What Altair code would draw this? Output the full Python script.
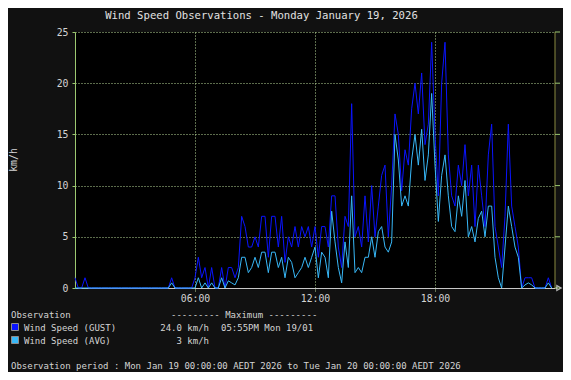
import altair as alt
import pandas as pd

# ---------------- data (10-minute slots, 00:00 .. 23:50) ----------------
slot_minutes = 10
gust = [1, 0, 0, 1, 0, 0, 0, 0, 0, 0, 0, 0, 0, 0, 0, 0, 0, 0, 0, 0,
        0, 0, 0, 0, 0, 0, 0, 0, 0, 1, 0, 0, 0, 0, 0, 0, 1, 3, 1, 2,
        0, 2, 0, 0, 2, 0, 2, 2, 1, 2, 7, 6, 4, 4, 5, 4, 7, 7, 3, 7,
        7, 4, 7, 2.5, 5, 4, 6, 4, 6, 5, 6, 4, 6, 3, 6, 6, 4, 9, 9, 4,
        2, 7, 6, 18, 5, 6, 4, 9, 4.5, 10, 5, 8, 11, 12, 5, 10, 17, 15, 9.5, 13.5,
        12, 17.5, 20, 17, 21, 14, 16, 24, 15, 9, 20, 24, 13, 9, 8, 12, 10, 14, 9, 12,
        6, 12, 9, 6, 13, 16, 6, 4, 2, 7, 16, 8, 6, 4, 0, 1, 1, 1, 0, 0,
        0, 0, 1, 0]
avg = [0, 0, 0, 0, 0, 0, 0, 0, 0, 0, 0, 0, 0, 0, 0, 0, 0, 0, 0, 0,
       0, 0, 0, 0, 0, 0, 0, 0, 0, 0.5, 0, 0, 0, 0, 0, 0, 0, 1, 0, 0.5,
       0, 0.5, 0, 0, 1, 0, 0.7, 0.5, 0.3, 1, 3, 3, 1.5, 2, 3, 2, 3.5, 3.5, 1.5, 3.5,
       3.5, 2, 3, 1, 3, 2.5, 1, 1.5, 2, 3, 2, 3, 4, 1, 3.5, 3, 1, 7.5, 4.5, 2,
       0.5, 4.5, 2, 9, 1.5, 2, 1.5, 3, 3, 5, 3, 5.5, 6, 4, 3.5, 4.5, 15, 12.5, 8, 9,
       8, 12.5, 15, 12, 15.5, 10.5, 13, 19, 12, 6.5, 11, 13, 9, 6, 5.5, 9, 7, 10.5, 5, 6,
       4.5, 6.8, 7.5, 5, 8, 8, 3, 1, 0, 4, 8, 6, 4, 3, 0, 0.3, 0.5, 0.3, 0, 0,
       0, 0, 0.5, 0]

x_ticks = [6, 12, 18]
x_tick_labels = ["06:00", "12:00", "18:00"]
y_ticks = [0, 5, 10, 15, 20, 25]

title_text = "Wind Speed Observations - Monday January 19, 2026"
y_title = "km/h"
legend_header = "Observation"
legend_max_header = "--------- Maximum ---------"
series_names = ["Wind Speed (GUST)", "Wind Speed (AVG)"]
series_max = ["24.0 km/h", "3 km/h"]
series_max_time = ["05:55PM Mon 19/01", ""]
period_text = "Observation period : Mon Jan 19 00:00:00 AEDT 2026 to Tue Jan 20 00:00:00 AEDT 2026"

GUST_COLOR = "#0a14ff"
AVG_COLOR = "#38b8f8"
TEXT_COLOR = "#d4d4d4"
GRID_COLOR = "#b8d898"
AXIS_COLOR = "#9cc870"
FONT = "DejaVu Sans Mono"

hours = [i * slot_minutes / 60 for i in range(len(gust))]
gust_df = pd.DataFrame({"h": hours, "v": gust})
avg_df = pd.DataFrame({"h": hours, "v": avg})
tick_df = pd.DataFrame({"v": y_ticks})

label_lookup = "{" + ",".join(f"'{t}':'{l}'" for t, l in zip(x_ticks, x_tick_labels)) + "}"

x_enc = alt.X(
    "h:Q",
    scale=alt.Scale(domain=[0, 24], nice=False, zero=False),
    axis=alt.Axis(
        values=x_ticks, labelExpr=f"{label_lookup}[datum.value]", title=None,
        grid=True, gridDash=[1, 2], gridColor=GRID_COLOR, gridWidth=1,
        domainColor="#c8c8c8", tickColor=GRID_COLOR, tickSize=3, tickDash=[1, 1],
        labelColor=TEXT_COLOR, labelFont=FONT, labelFontSize=9.8, labelPadding=2,
        labelBaseline="top",
    ),
)
y_enc = alt.Y(
    "v:Q",
    scale=alt.Scale(domain=[0, 25], nice=False),
    axis=alt.Axis(
        values=y_ticks, title=None,
        grid=True, gridDash=[1, 2], gridColor=GRID_COLOR, gridWidth=1,
        domainColor=AXIS_COLOR, tickColor=AXIS_COLOR, tickSize=3,
        labelColor=TEXT_COLOR, labelFont=FONT, labelFontSize=9.8, labelPadding=4,
    ),
)

gust_line = alt.Chart(gust_df).mark_line(
    color=GUST_COLOR, strokeWidth=1, interpolate="linear"
).encode(x=x_enc, y=y_enc)
avg_line = alt.Chart(avg_df).mark_line(
    color=AVG_COLOR, strokeWidth=1, interpolate="linear"
).encode(x=x_enc, y=y_enc)

# right border and right-side ticks
right_border = alt.Chart(alt.Data(values=[{}])).mark_rule(
    color="#8a8a40", strokeWidth=1
).encode(x=alt.value(480), y=alt.value(0), y2=alt.value(256))
right_ticks = alt.Chart(tick_df).mark_rule(
    color=AXIS_COLOR, strokeWidth=1
).encode(x=alt.value(480), x2=alt.value(485), y=y_enc)
arrow = alt.Chart(alt.Data(values=[{}])).mark_point(
    shape="triangle-right", size=25, color="white", filled=False, strokeWidth=1.2
).encode(x=alt.value(484), y=alt.value(256))


def label(text, x, y, size=9, align="left", color=TEXT_COLOR, angle=0):
    return alt.Chart(alt.Data(values=[{}])).mark_text(
        font=FONT, fontSize=size, align=align, baseline="alphabetic",
        color=color, angle=angle,
    ).encode(x=alt.value(x), y=alt.value(y), text=alt.value(text))


def swatch(color, y):
    return alt.Chart(alt.Data(values=[{}])).mark_rect(
        color=color, stroke="#8c8c8c", strokeWidth=1
    ).encode(x=alt.value(-63.5), x2=alt.value(-56.5), y=alt.value(y), y2=alt.value(y + 7))


texts = [
    label(title_text, 186.5, -13, size=10.6, align="center", color="#e2e2e2"),
    label(y_title, -58, 128, size=9.8, align="center", angle=270),
    label(legend_header, -64, 286),
    label(legend_max_header, 96, 286),
    swatch(GUST_COLOR, 291.5),
    label(series_names[0], -51, 299),
    label(series_max[0], 134, 299, align="right"),
    label(series_max_time[0], 146, 299),
    swatch(AVG_COLOR, 304.5),
    label(series_names[1], -51, 312),
    label(series_max[1], 134, 312, align="right"),
    label(period_text, -64, 337),
]

chart = alt.layer(
    gust_line, avg_line, right_border, right_ticks, arrow, *texts
).properties(
    width=480, height=256, background="#111111",
    padding={"left": 67, "top": 24, "right": 8, "bottom": 84},
    autosize=alt.AutoSizeParams(type="none"),
).configure_view(stroke=None, fill="#000000")

chart.save("out.html", embed_options={"renderer": "svg", "actions": False})
